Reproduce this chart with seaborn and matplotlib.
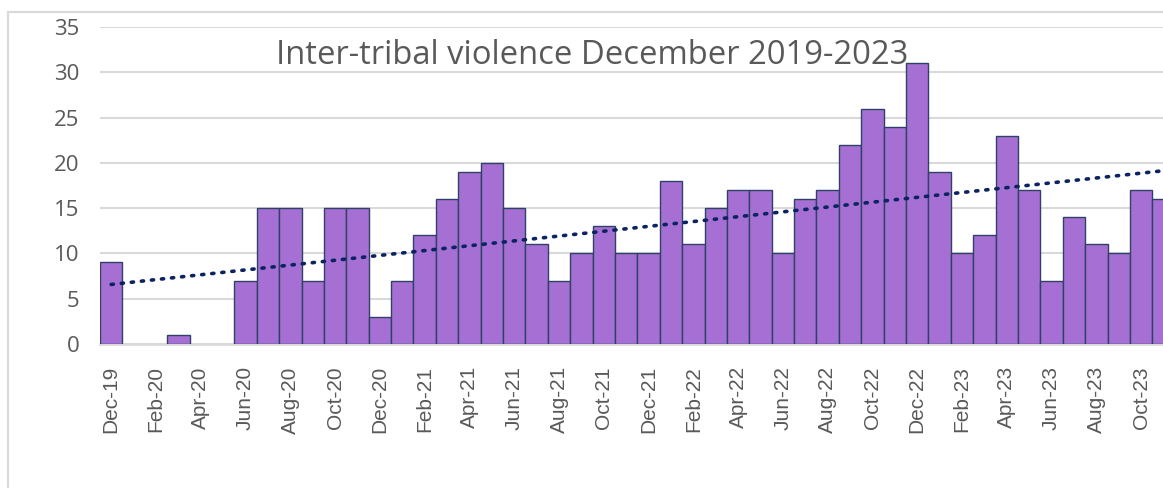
import numpy as np
import pandas as pd
import matplotlib
matplotlib.use("Agg")
import matplotlib.pyplot as plt
import seaborn as sns
from matplotlib.patches import Rectangle

months = ["Dec-19", "Jan-20", "Feb-20", "Mar-20", "Apr-20", "May-20", "Jun-20", "Jul-20",
          "Aug-20", "Sep-20", "Oct-20", "Nov-20", "Dec-20", "Jan-21", "Feb-21", "Mar-21",
          "Apr-21", "May-21", "Jun-21", "Jul-21", "Aug-21", "Sep-21", "Oct-21", "Nov-21",
          "Dec-21", "Jan-22", "Feb-22", "Mar-22", "Apr-22", "May-22", "Jun-22", "Jul-22",
          "Aug-22", "Sep-22", "Oct-22", "Nov-22", "Dec-22", "Jan-23", "Feb-23", "Mar-23",
          "Apr-23", "May-23", "Jun-23", "Jul-23", "Aug-23", "Sep-23", "Oct-23", "Nov-23"]
incidents = [9, 0, 0, 1, 0, 0, 7, 15,
             15, 7, 15, 15, 3, 7, 12, 16,
             19, 20, 15, 11, 7, 10, 13, 10,
             10, 18, 11, 15, 17, 17, 10, 16,
             17, 22, 26, 24, 31, 19, 10, 12,
             23, 17, 7, 14, 11, 10, 17, 16]
title = "Inter-tribal violence December 2019-2023"
yticks = [0, 5, 10, 15, 20, 25, 30, 35]

df = pd.DataFrame({"month": months, "incidents": incidents})

sns.set_theme(style="white")
plt.rcParams["font.family"] = ["Open Sans", "DejaVu Sans"]

W, H = 1163, 488
fig = plt.figure(figsize=(W / 100, H / 100), dpi=100)

# chart-area border (cut off at right/bottom like the reference)
fig.patches.append(Rectangle((8 / W, -0.1), 1.2, 1 - 12 / H + 0.1, transform=fig.transFigure,
                             fill=False, edgecolor="#d9d9d9", linewidth=1.5, zorder=0))

n = len(months)
left_px, right_px = 100, 100 + n * 22.39
ax = fig.add_axes([left_px / W, 1 - 344 / H, (right_px - left_px) / W, (344 - 27) / H])

sns.barplot(data=df, x="month", y="incidents", ax=ax, color="#A66FD3", saturation=1,
            width=1.0, edgecolor="#2E4266", linewidth=1.0, zorder=3)
for p in ax.patches:
    if p.get_height() == 0:
        p.set_visible(False)

# linear trendline
xs = np.arange(n)
coef = np.polyfit(xs, np.array(incidents, dtype=float), 1)
xt = np.linspace(0, n + 1, 200)
ax.plot(xt, np.polyval(coef, xt), linestyle=(0, (0.6, 2.2)), color="#0B2361",
        linewidth=2.6, dash_capstyle="round", zorder=4)

ax.set_xlim(-0.5, n - 0.5)
ax.set_ylim(0, 35)
ax.set_yticks(yticks)
ax.set_yticklabels([str(v) for v in yticks], fontsize=16, color="#595959")
ax.yaxis.grid(True, color="#d9d9d9", linewidth=1.5, zorder=0)
ax.set_axisbelow(True)
ax.tick_params(axis="y", length=0, pad=15)

ax.set_xticks(xs[::2])
ax.set_xticklabels(months[::2], rotation=90, fontsize=15, color="#595959",
                   family=["Liberation Sans", "DejaVu Sans"])
ax.set_xticks(np.arange(-0.5, n, 2), minor=True)
ax.tick_params(axis="x", which="major", length=0, pad=16)
ax.tick_params(axis="x", which="minor", length=8, width=1.5, color="#d9d9d9", direction="out")
ax.set_xlabel("")
ax.set_ylabel("")

for s in ["top", "right", "left"]:
    ax.spines[s].set_visible(False)
ax.spines["bottom"].set_color("#d9d9d9")
ax.spines["bottom"].set_linewidth(2)

fig.text(592 / W, 1 - 56 / H, title, ha="center", va="center", fontsize=23.6, color="#595959")

fig.savefig("out.png", dpi=100)
